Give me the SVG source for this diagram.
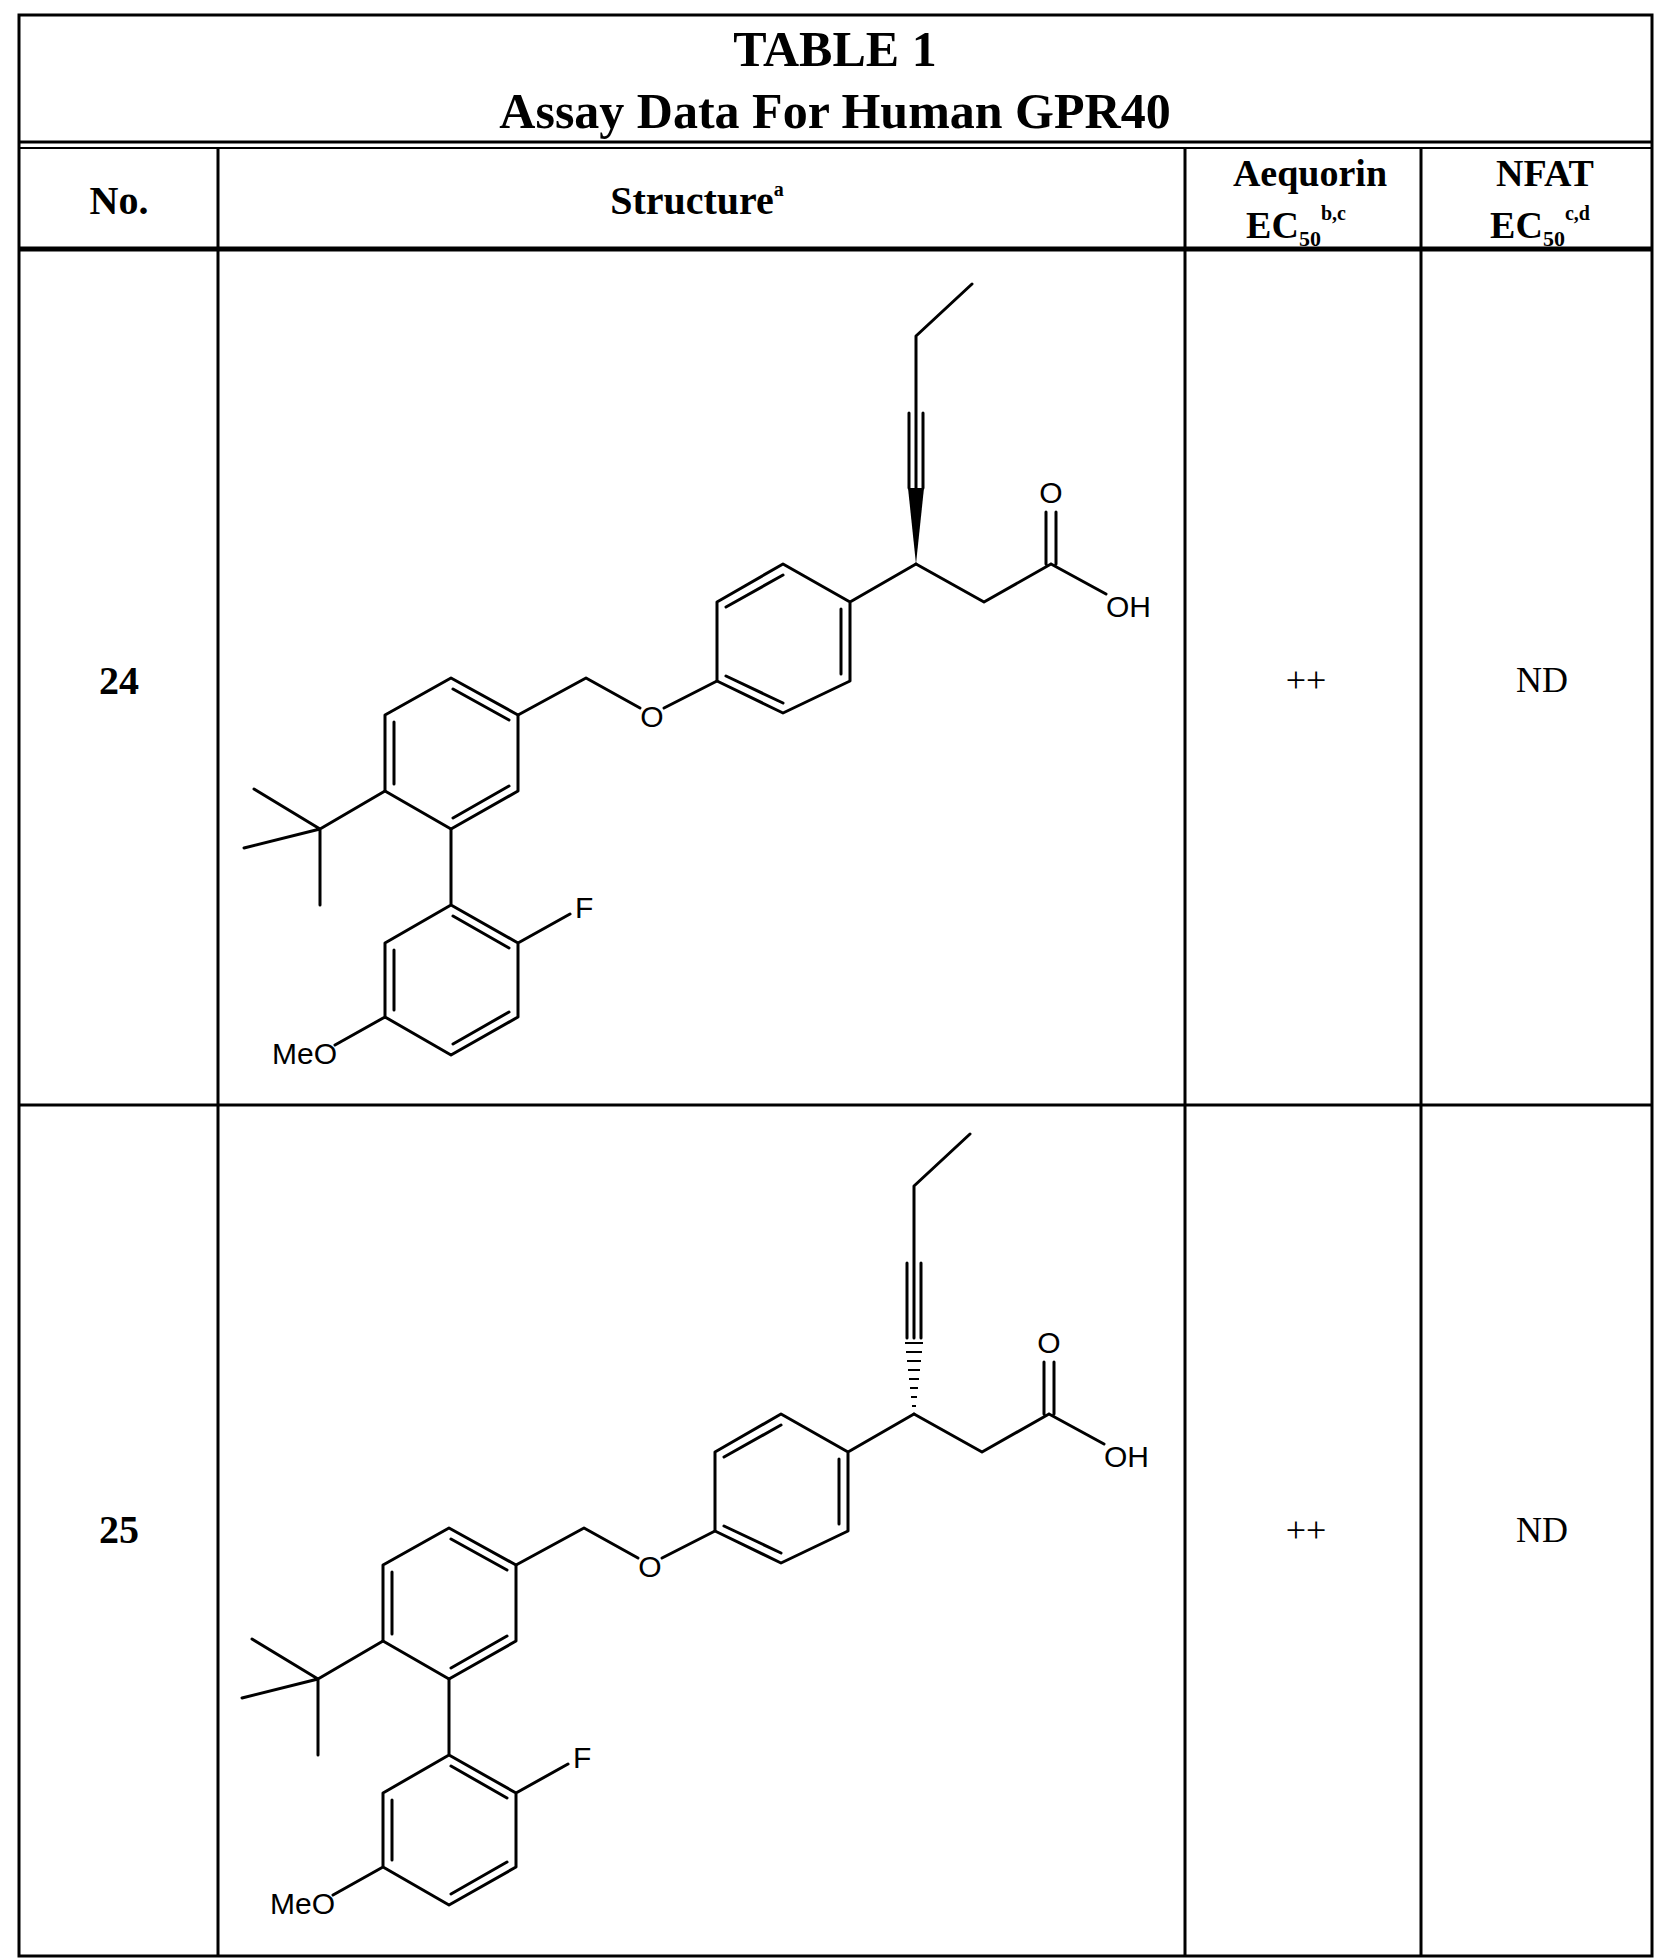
<svg xmlns="http://www.w3.org/2000/svg" width="1671" height="1960" viewBox="0 0 1671 1960">
<style>
.t{font-family:"Liberation Serif",serif;font-weight:bold;fill:#000;text-anchor:middle}
.v{font-family:"Liberation Serif",serif;fill:#000;text-anchor:middle;font-size:36px}
.a{font-family:"Liberation Sans",Arial,sans-serif;fill:#000;font-size:30px}
.b{stroke:#000;stroke-width:3;fill:none;stroke-linecap:round;stroke-linejoin:round}
.g{stroke:#000;fill:none}
</style>
<rect width="1671" height="1960" fill="#fff"/>
<g id="grid" class="g">
<rect x="19" y="15" width="1633" height="1941" stroke-width="3"/>
<line x1="19" y1="142" x2="1652" y2="142" stroke-width="3"/>
<line x1="19" y1="148" x2="1652" y2="148" stroke-width="2"/>
<line x1="19" y1="249" x2="1652" y2="249" stroke-width="5"/>
<line x1="19" y1="1105" x2="1652" y2="1105" stroke-width="3"/>
<line x1="218" y1="148" x2="218" y2="1956" stroke-width="3"/>
<line x1="1185" y1="148" x2="1185" y2="1956" stroke-width="3"/>
<line x1="1421" y1="148" x2="1421" y2="1956" stroke-width="3"/>
</g>
<g id="title">
<text class="t" x="835" y="66" font-size="50">TABLE 1</text>
<text class="t" x="835" y="128" font-size="50">Assay Data For Human GPR40</text>
</g>
<g id="header">
<text class="t" x="119" y="214" font-size="40">No.</text>
<text class="t" x="697" y="214" font-size="40">Structure<tspan font-size="20" dy="-18">a</tspan></text>
<text class="t" x="1310" y="186" font-size="38">Aequorin</text>
<text class="t" x="1296" y="238" font-size="38">EC<tspan font-size="22" dy="8">50</tspan><tspan font-size="20" dy="-26">b,c</tspan></text>
<text class="t" x="1545" y="186" font-size="38">NFAT</text>
<text class="t" x="1540" y="238" font-size="38">EC<tspan font-size="22" dy="8">50</tspan><tspan font-size="20" dy="-26">c,d</tspan></text>
</g>
<defs>
<g id="mol">
<path class="b" d="M972,284 L916,336 L916,413 M909,413 L909,488 M916,413 L916,488 M923,413 L923,488 M916,564 L984,602 L1051,564 M1046,564 L1046,512 M1056,564 L1056,512 M1051,564 L1106,594"/>
<path class="b" d="M916,564 L850,602 M783,564 L850,602 L850,681 L783,713 L717,681 L717,602 Z M726,607 L783,575 M841,609 L841,674 M726,676 L783,703"/>
<path class="b" d="M717,681 L664,708 M640,708 L586,678 L518,715"/>
<path class="b" d="M518,715 L451,678 L385,715 L385,791 L451,829 L518,791 Z M453,689 L509,720 M394,722 L394,784 M453,818 L509,786"/>
<path class="b" d="M385,791 L320,829 L254,789 M320,829 L244,848 M320,829 L320,905"/>
<path class="b" d="M451,829 L451,905 M451,905 L518,943 L518,1017 L451,1055 L385,1017 L385,943 Z M453,916 L509,948 M394,950 L394,1010 M453,1044 L509,1012 M518,943 L570,914 M385,1017 L335,1045"/>
<text class="a" x="1051" y="503" text-anchor="middle">O</text>
<text class="a" x="1106" y="617">OH</text>
<text class="a" x="652" y="727" text-anchor="middle">O</text>
<text class="a" x="575" y="918">F</text>
<text class="a" x="337" y="1064" text-anchor="end">MeO</text>
</g>
</defs>
<g id="row24">
<text class="t" x="119" y="694" font-size="40">24</text>
<use href="#mol"/>
<polygon points="916,564 908,488 924,488" fill="#000"/>
<text class="v" x="1306" y="692">++</text>
<text class="v" x="1542" y="692">ND</text>
</g>
<g id="row25">
<text class="t" x="119" y="1543" font-size="40">25</text>
<use href="#mol" transform="translate(-2,850)"/>
<path stroke="#000" stroke-width="2" d="M912,1406 L916,1406 M911,1397 L917,1397 M910,1388 L918,1388 M909,1379 L919,1379 M908,1370 L920,1370 M907,1361 L921,1361 M906,1352 L922,1352 M905,1343 L923,1343"/>
<text class="v" x="1306" y="1542">++</text>
<text class="v" x="1542" y="1542">ND</text>
</g>
</svg>
